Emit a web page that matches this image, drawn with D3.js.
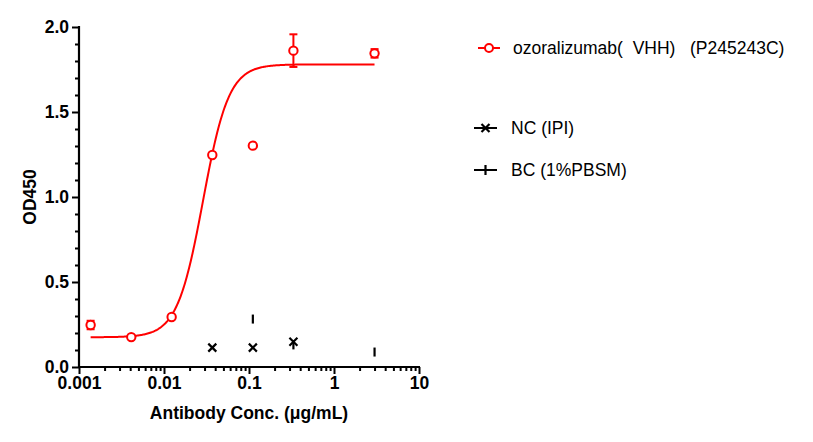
<!DOCTYPE html>
<html><head><meta charset="utf-8">
<script src="https://cdn.jsdelivr.net/npm/d3@7/dist/d3.min.js"></script>
<style>
body{margin:0;background:#fff;}
text{font-family:"Liberation Sans",Arial,"Noto Sans CJK SC",sans-serif;}
</style></head><body>
<svg id="c" width="813" height="442"></svg>
<script>
// Data
const conc = [0.00137, 0.00412, 0.0123, 0.037, 0.111, 0.333, 3];
const ozoMean = [0.247, 0.176, 0.294, 1.247, 1.302, 1.861, 1.845];
const ozoErr  = [0.025, 0, 0, 0, 0, 0.096, 0.025];
const ncConc = [0.037, 0.111, 0.333];
const ncVals = [0.114, 0.114, 0.149];
const bcConc = [0.111, 0.333, 3];
const bcVals = [0.282, 0.13, 0.088];
// 4PL fit parameters
const fitBottom = 0.175, fitTop = 1.78, fitLogEC50 = -1.541, fitHill = 2.86;
const xTicks = [0.001, 0.01, 0.1, 1, 10];
const xTickLabels = ["0.001", "0.01", "0.1", "1", "10"];
const yTicks = [0, 0.5, 1.0, 1.5, 2.0];
const yTickLabels = ["0.0", "0.5", "1.0", "1.5", "2.0"];
const legendLabels = ["ozoralizumab(  VHH)   (P245243C)", "NC (IPI)", "BC (1%PBSM)"];

const red = "#ff0000";
const svg = d3.select("#c");
const x = d3.scaleLog().domain([0.001, 10]).range([79, 419]);
const y = d3.scaleLinear().domain([0, 2]).range([367, 27]);

// minor ticks
const xMinor = [];
for (let d = -3; d < 1; d++) for (let k = 2; k <= 9; k++) xMinor.push(k * Math.pow(10, d));
const yMinor = d3.range(0, 2.01, 0.1).map(v => +v.toFixed(2)).filter(v => !yTicks.some(t => Math.abs(t - v) < 1e-6));

const gx = svg.append("g").attr("transform", `translate(0,${y(0)})`);
gx.call(d3.axisBottom(x).tickValues(xTicks).tickFormat((d, i) => xTickLabels[i]).tickSize(7).tickPadding(3));
gx.append("g").call(d3.axisBottom(x).tickValues(xMinor).tickFormat("").tickSize(4));

const gy = svg.append("g").attr("transform", `translate(${x(0.001)},0)`);
gy.call(d3.axisLeft(y).tickValues(yTicks).tickFormat((d, i) => yTickLabels[i]).tickSize(7).tickPadding(3));
gy.append("g").call(d3.axisLeft(y).tickValues(yMinor).tickFormat("").tickSize(4));

[gx, gy].forEach(g => {
  g.selectAll("g > g > path.domain").remove();
  g.selectAll("path.domain").attr("stroke", "#000").attr("stroke-width", 2.2);
  g.selectAll(".tick line").attr("stroke", "#000").attr("stroke-width", 2);
  g.selectAll(".tick text").attr("fill", "#000").style("font-size", "17.5px").style("font-weight", "bold");
});
gx.selectAll("path.domain").attr("d", `M${x(0.001)-1},0H${x(10)+1}`);
gy.selectAll("path.domain").attr("d", `M0,${y(2)-1}V${y(0)+1}`);

// axis titles
svg.append("text").attr("x", 249).attr("y", 419).attr("text-anchor", "middle")
  .style("font-size", "17.5px").style("font-weight", "bold").text("Antibody Conc. (μg/mL)");
svg.append("text").attr("transform", `translate(36,${y(1)}) rotate(-90)`).attr("text-anchor", "middle")
  .style("font-size", "17.5px").style("font-weight", "bold").text("OD450");

// fitted curve
const logs = d3.range(Math.log10(conc[0]), Math.log10(conc[conc.length-1]) + 0.0001, 0.01);
const fit = lx => fitBottom + (fitTop - fitBottom) / (1 + Math.pow(10, (fitLogEC50 - lx) * fitHill));
svg.append("path").datum(logs)
  .attr("d", d3.line().x(lx => x(Math.pow(10, lx))).y(lx => y(fit(lx))))
  .attr("fill", "none").attr("stroke", red).attr("stroke-width", 2);

// error bars
conc.forEach((c, i) => {
  if (ozoErr[i] <= 0) return;
  const cx = x(c), y1 = y(ozoMean[i] + ozoErr[i]), y2 = y(ozoMean[i] - ozoErr[i]);
  svg.append("line").attr("x1", cx).attr("x2", cx).attr("y1", y1).attr("y2", y2).attr("stroke", red).attr("stroke-width", 2);
  [y1, y2].forEach(yy => svg.append("line").attr("x1", cx - 4).attr("x2", cx + 4).attr("y1", yy).attr("y2", yy).attr("stroke", red).attr("stroke-width", 2));
});
// red circles
svg.selectAll("circle.ozo").data(conc).enter().append("circle")
  .attr("cx", d => x(d)).attr("cy", (d, i) => y(ozoMean[i])).attr("r", 4.2)
  .attr("fill", "#fff").attr("stroke", red).attr("stroke-width", 2);

// NC x marks
const xmark = (g, cx, cy, s) => {
  g.append("path").attr("d", `M${cx-s},${cy-s}L${cx+s},${cy+s}M${cx-s},${cy+s}L${cx+s},${cy-s}`)
    .attr("stroke", "#000").attr("stroke-width", 2.2).attr("fill", "none");
};
ncConc.forEach((c, i) => xmark(svg, x(c), y(ncVals[i]), 4));
// BC vertical marks
const vmark = (g, cx, cy, s) => {
  g.append("path").attr("d", `M${cx},${cy-s}V${cy+s}`).attr("stroke", "#000").attr("stroke-width", 2.2);
};
bcConc.forEach((c, i) => vmark(svg, x(c), y(bcVals[i]), 4.5));

// legend
const lg = svg.append("g");
lg.append("line").attr("x1", 478).attr("x2", 500).attr("y1", 48).attr("y2", 48).attr("stroke", red).attr("stroke-width", 2);
lg.append("circle").attr("cx", 489).attr("cy", 48).attr("r", 4).attr("fill", "#fff").attr("stroke", red).attr("stroke-width", 2);
lg.append("text").attr("x", 513).attr("y", 54).style("font-size", "17.5px").style("white-space", "pre").attr("xml:space", "preserve").text(legendLabels[0]);

lg.append("line").attr("x1", 474).attr("x2", 497).attr("y1", 128).attr("y2", 128).attr("stroke", "#000").attr("stroke-width", 2);
xmark(lg, 485.5, 128, 4);
lg.append("text").attr("x", 511).attr("y", 134).style("font-size", "17.5px").text(legendLabels[1]);

lg.append("line").attr("x1", 474).attr("x2", 497).attr("y1", 170).attr("y2", 170).attr("stroke", "#000").attr("stroke-width", 2);
vmark(lg, 485.5, 170, 5);
lg.append("text").attr("x", 511).attr("y", 176).style("font-size", "17.5px").text(legendLabels[2]);
</script></body></html>
